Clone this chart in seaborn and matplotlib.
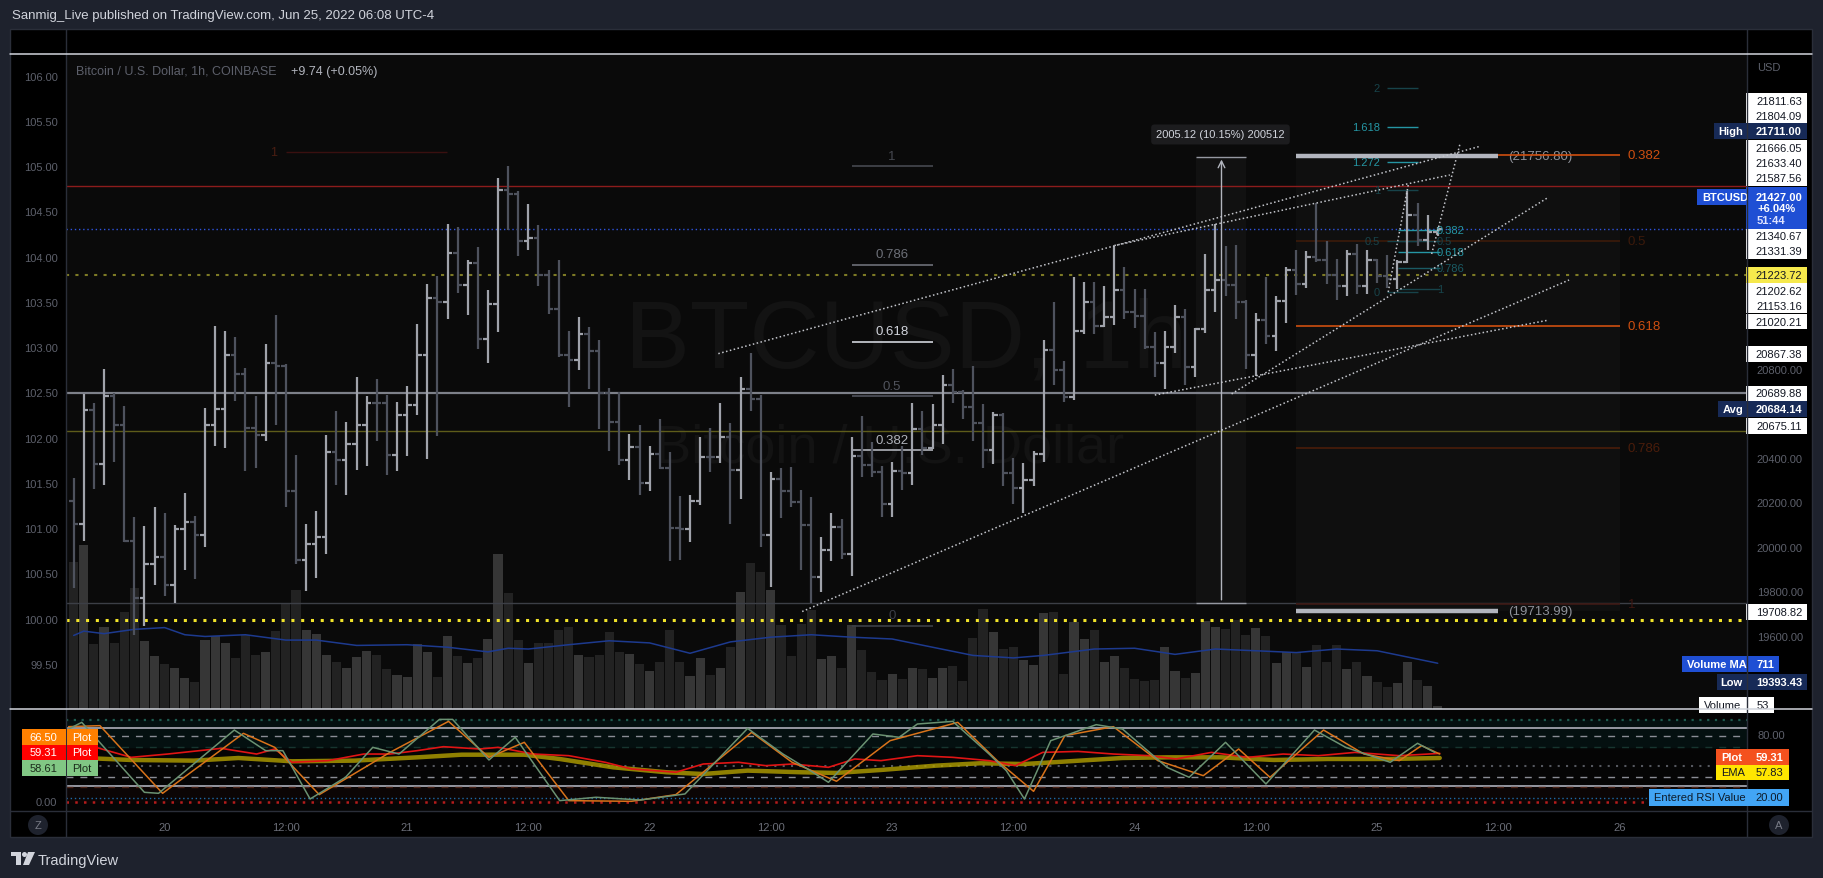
import numpy as np
import pandas as pd
import matplotlib
matplotlib.use("Agg")
import matplotlib.pyplot as plt
import matplotlib.transforms as mtransforms
from matplotlib.patches import Rectangle, Ellipse, Polygon
from matplotlib.lines import Line2D
import seaborn as sns

# ---------------------------------------------------------------- data
# hourly bars, hour 0 = Jun 20 00:00 (UTC-4)
hours = list(range(-9, 127))
opens = [20208, 20104, 20617, 20372, 20677, 20550, 20027, 19771, 19922, 19954,
         19831, 20083, 20112, 20055, 20548, 20622, 20863, 20778, 20534, 20505,
         20826, 20815, 20253, 19940, 20012, 20044, 20425, 20389, 20465, 20548,
         20646, 20646, 20413, 20593, 20636, 20864, 21120, 21099, 21323, 21176,
         21275, 20933, 21091, 21604, 21585, 21375, 21388, 21224, 21070, 20864,
         20839, 20957, 20882, 20693, 20564, 20392, 20449, 20288, 20416, 20355,
         20087, 20079, 20208, 20405, 20405, 20494, 20348, 20709, 20665, 20055,
         20304, 20253, 20203, 20100, 19863, 19986, 20091, 19967, 20409, 20368,
         20336, 20195, 20340, 20333, 20529, 20444, 20548, 20730, 20697, 20630,
         20556, 20436, 20593, 20332, 20264, 20299, 20416, 20887, 20794, 20673,
         20970, 21102, 20994, 21034, 21155, 21054, 21038, 20901, 20829, 20901,
         21034, 20810, 20978, 21155, 21198, 21179, 21102, 20861, 21018, 20949,
         21107, 21246, 21182, 21304, 21288, 21224, 21174, 21315, 21171, 21288,
         21219, 21203, 21283, 21492, 21380, 21415]
highs = [20309, 20686, 20646, 20799, 20693, 20633, 20136, 20096, 20179, 20152,
         20099, 20243, 20139, 20625, 20994, 20973, 20943, 20805, 20678, 20911,
         21043, 20821, 20413, 20104, 20160, 20505, 20609, 20564, 20765, 20678,
         20754, 20681, 20653, 20722, 21002, 21182, 21216, 21452, 21439, 21291,
         21347, 21155, 21657, 21711, 21599, 21540, 21449, 21243, 21288, 20970,
         21034, 20989, 20930, 20713, 20697, 20510, 20548, 20452, 20574, 20429,
         20229, 20235, 20494, 20537, 20646, 20556, 20762, 20874, 20681, 20336,
         20355, 20360, 20256, 20224, 20047, 20152, 20124, 20494, 20588, 20473,
         20365, 20384, 20452, 20646, 20612, 20641, 20774, 20799, 20705, 20813,
         20641, 20606, 20601, 20400, 20376, 20433, 20930, 21102, 20834, 21214,
         21192, 21190, 21171, 21355, 21259, 21158, 21158, 20965, 20970, 21087,
         21070, 20986, 21315, 21452, 21355, 21359, 21110, 21050, 21214, 21126,
         21259, 21335, 21331, 21545, 21376, 21295, 21335, 21364, 21335, 21295,
         21312, 21291, 21599, 21545, 21492, 21436]
lows = [19815, 20028, 20259, 20280, 20380, 20023, 19603, 19646, 19828, 19779,
        19747, 19895, 19855, 19999, 20452, 20444, 20657, 20340, 20357, 20478,
        20550, 20179, 19922, 19803, 19860, 19970, 20280, 20235, 20348, 20364,
        20478, 20325, 20340, 20409, 20593, 20397, 20497, 21026, 21142, 21043,
        20890, 20829, 20967, 21423, 21310, 21335, 21171, 21046, 20853, 20628,
        20794, 20709, 20529, 20433, 20368, 20299, 20232, 20251, 20352, 19935,
        19940, 20023, 20190, 20336, 20376, 20104, 20216, 20609, 19999, 19818,
        20131, 20179, 19898, 19750, 19799, 19935, 19946, 19871, 20315, 20315,
        20136, 20136, 20256, 20280, 20412, 20441, 20465, 20649, 20577, 20476,
        20355, 20372, 20275, 20192, 20155, 20275, 20381, 20726, 20653, 20660,
        20957, 20957, 20990, 20997, 21026, 20986, 20890, 20766, 20709, 20874,
        20726, 20766, 20962, 21058, 21127, 21026, 20802, 20770, 20914, 20882,
        21007, 21131, 21163, 21283, 21182, 21110, 21127, 21139, 21139, 21187,
        21163, 21158, 21278, 21355, 21336, 21396]
closes = [20104, 20617, 20372, 20677, 20550, 20027, 19771, 19922, 19954, 19831,
          20083, 20112, 20055, 20548, 20622, 20863, 20778, 20534, 20505, 20826,
          20815, 20253, 19940, 20012, 20044, 20425, 20389, 20465, 20548, 20646,
          20646, 20413, 20593, 20636, 20864, 21120, 21099, 21323, 21176, 21275,
          20933, 21091, 21604, 21585, 21375, 21388, 21224, 21070, 20864, 20839,
          20957, 20882, 20693, 20564, 20392, 20449, 20288, 20416, 20355, 20087,
          20079, 20208, 20405, 20405, 20494, 20348, 20709, 20665, 20055, 20304,
          20253, 20203, 20100, 19863, 19986, 20091, 19967, 20409, 20368, 20336,
          20195, 20340, 20333, 20529, 20444, 20548, 20730, 20697, 20630, 20556,
          20436, 20593, 20332, 20264, 20299, 20416, 20887, 20794, 20673, 20970,
          21102, 20994, 21034, 21155, 21054, 21038, 20901, 20829, 20901, 21034,
          20810, 20978, 21155, 21198, 21179, 21102, 20861, 21018, 20949, 21107,
          21246, 21182, 21304, 21288, 21224, 21174, 21315, 21171, 21288, 21219,
          21203, 21283, 21492, 21380, 21415, 21427]
volumes = [2281, 2553, 1016, 1282, 1027, 1504, 1876, 1055, 821, 699,
           638, 477, 422, 1071, 1127, 1027, 794, 1143, 838, 888,
           1210, 1643, 1848, 1227, 1171, 838, 727, 638, 810, 899,
           838, 616, 527, 505, 1010, 888, 500, 1138, 821, 710,
           794, 1088, 2414, 1804, 1071, 710, 1027, 1027, 1227, 1282,
           838, 810, 838, 1199, 888, 860, 699, 588, 727, 1227,
           738, 511, 794, 527, 638, 966, 1820, 2264, 2126, 1848,
           1304, 821, 1321, 1543, 777, 821, 638, 1304, 916, 572,
           450, 544, 466, 638, 616, 483, 638, 666, 433, 1099,
           1554, 1199, 932, 971, 766, 683, 1487, 1504, 544, 1349,
           1088, 1227, 727, 821, 638, 466, 433, 450, 960, 588,
           477, 555, 1365, 1277, 1238, 1388, 1154, 1254, 1127, 710,
           888, 888, 655, 999, 727, 999, 616, 738, 511, 416,
           344, 405, 738, 450, 350, 53]
vol_ma_hours = [-9, -8, -6, -3, 0, 2, 4, 8, 12, 15, 19, 24, 28, 32, 34, 36, 40, 44, 48,
                52, 56, 60, 64, 68, 72, 76, 80, 84, 87, 92, 96, 100, 104, 108, 112, 116, 120, 126]
vol_ma_values = [1143, 1210, 1171, 1238, 1265, 1154, 1127, 1154, 1071, 1071, 988, 999, 960, 888,
                 944, 932, 999, 1060, 1027, 866, 1043, 1116, 1154, 1116, 1088, 960, 833, 794,
                 833, 932, 944, 849, 932, 905, 877, 932, 905, 711]

# oscillator pane
green_h = [-9.5, -8.2, -2.0, -0.6, 6.9, 10.0, 11.7, 14.4, 17.9, 20.6, 23.2, 27.2, 28.5, 32.1,
           34.7, 39.1, 42.7, 47.1, 51.5, 57.7, 61.2, 63.9, 65.7, 70.1, 72.7, 74.5, 78.0, 81.6,
           83.3, 85.1, 87.7, 92.2, 94.8, 99.2, 101.4, 105.0, 109.0, 113.8, 116.9, 121.3, 124.0, 125.7]
green_v = [88.8, 96.9, 12.1, 10.9, 87.6, 62.6, 62.6, 4.0, 30.3, 66.6, 58.5, 100.5, 100.5, 51.3,
           78.8, 2.0, 6.1, 2.8, 10.1, 89.6, 58.5, 38.4, 24.2, 82.8, 78.8, 94.9, 98.1, 58.5,
           38.4, 4.0, 74.7, 94.1, 88.8, 42.4, 30.3, 72.7, 22.2, 87.6, 66.6, 48.5, 71.5, 60.5]
orange_h = [-9.5, -6.4, -0.2, 7.8, 10.9, 15.3, 22.3, 28.1, 32.1, 35.6, 40.0, 46.2, 50.6, 58.1,
            62.1, 66.5, 71.8, 78.5, 82.4, 86.0, 89.1, 93.9, 98.3, 102.8, 106.3, 109.4, 114.7,
            118.7, 122.2, 124.4, 126.2]
orange_v = [91.7, 92.9, 10.9, 83.6, 66.6, 9.3, 60.5, 98.1, 54.5, 72.7, 2.0, 1.2, 9.3, 84.8,
            48.5, 25.5, 74.7, 96.9, 50.5, 13.3, 80.8, 91.7, 50.5, 32.3, 64.6, 30.3, 87.6,
            58.5, 50.5, 68.7, 58.5]
red_h = [-9.5, -6.8, -3.3, 0.3, 5.6, 9.1, 10.9, 12.6, 16.2, 19.7, 22.3, 25.0, 27.6, 31.2, 33.0,
         36.5, 40.0, 43.6, 46.2, 50.6, 53.3, 56.8, 59.5, 62.1, 65.7, 68.3, 70.9, 74.5, 78.0,
         81.6, 84.2, 86.9, 90.4, 93.9, 97.5, 100.1, 103.6, 107.2, 110.7, 114.2, 117.8, 122.2, 126.2]
red_v = [64.6, 66.6, 54.5, 58.5, 65.4, 58.5, 64.6, 48.5, 50.5, 58.5, 58.5, 62.6, 67.4, 64.6, 66.6,
         58.5, 56.5, 48.5, 40.4, 36.4, 46.4, 48.5, 44.4, 46.4, 42.4, 52.5, 50.5, 56.5, 54.5,
         50.5, 44.4, 60.5, 61.7, 58.5, 56.5, 52.5, 60.5, 54.5, 58.5, 56.5, 60.5, 56.5, 59.3]
ema_h = [-9.5, -3.3, 2.9, 7.3, 12.6, 18.8, 25.0, 29.4, 35.6, 39.1, 44.4, 49.7, 53.3, 57.7, 63.0,
         66.5, 70.9, 76.3, 80.7, 85.1, 89.5, 94.8, 99.2, 104.5, 109.8, 115.1, 121.3, 126.2]
ema_v = [54.5, 51.3, 50.5, 53.7, 49.7, 50.5, 54.5, 57.7, 57.7, 52.5, 42.4, 36.4, 34.3, 38.4, 36.4,
         35.6, 39.2, 44.4, 47.3, 46.4, 49.7, 53.7, 54.5, 54.5, 51.3, 52.5, 52.5, 53.7]
rsi_levels = [100, 89.6, 80, 67.3, 44.3, 30.6, 20.1, 18.5, 5.6, 0]

# tick labels
time_ticks = [0, 12, 24, 36, 48, 60, 72, 84, 96, 108, 120, 132, 144]
time_labels = ["20", "12:00", "21", "12:00", "22", "12:00", "23", "12:00", "24", "12:00",
               "25", "12:00", "26"]
right_ticks = [19600, 19800, 20000, 20200, 20400, 20800]
left_ticks = [99.5, 100.0, 100.5, 101.0, 101.5, 102.0, 102.5, 103.0, 103.5, 104.0, 104.5,
              105.0, 105.5, 106.0]

# drawings
hline_prices = [21622, 21427, 21223.72, 20689.88, 20521, 19750, 19670]
fib_a_levels = [0, 0.382, 0.5, 0.618, 0.786, 1]
fib_a_prices = (19646, 21711)
fib_b_levels = [0.382, 0.5, 0.618, 0.786, 1]
fib_b_prices = (23011, 19744)
fib_c_levels = [0.382, 0.5, 0.618, 0.786, 1]
fib_c_prices = (21591, 21160)
fib_d_levels = [0, 0.5, 1, 1.272, 1.618, 2]
fib_d_prices = (21146, 21605)
trend_x0 = [54.8, 94.0, 63.1, 105.6, 98.0, 121.1, 125.4]
trend_p0 = [20869, 21355, 19710, 20688, 20683, 21146, 21317]
trend_x1 = [130.2, 127.2, 139.0, 137.0, 137.0, 123.1, 128.2]
trend_p1 = [21801, 21672, 21200, 21573, 21020, 21631, 21811]
range_top, range_bottom = 21756.80, 19713.99
measure_low, measure_high = 19750, 21754

# ---------------------------------------------------------------- style
sns.set_theme(style="dark", rc={"axes.grid": False})
plt.rcParams["font.family"] = ["Liberation Sans", "DejaVu Sans"]

W, H = 1823, 879
fig = plt.figure(figsize=(W / 100, H / 100), dpi=100, facecolor="#1e222d")


def frect(x0, y0, x1, y1):
    return [x0 / W, 1 - y1 / H, (x1 - x0) / W, (y1 - y0) / H]


def fx(x):
    return x / W


def fy(y):
    return 1 - y / H


def fig_box(x0, y0, x1, y1, fc, z=10, ec="none"):
    fig.add_artist(Rectangle((fx(x0), fy(y1)), (x1 - x0) / W, (y1 - y0) / H,
                             transform=fig.transFigure, facecolor=fc, edgecolor=ec, zorder=z))


def fig_text(x, y, s, color, size=8, ha="left", weight="normal", z=11):
    fig.text(fx(x), fy(y), s, color=color, fontsize=size, ha=ha, va="center",
             fontweight=weight, zorder=z)


def fig_line(xs, ys, color, lw=1.0, z=12):
    fig.add_artist(Line2D([fx(v) for v in xs], [fy(v) for v in ys], transform=fig.transFigure,
                          color=color, lw=lw, zorder=z))


# chart frame
fig_box(10, 30, 1812, 838, "#000000", z=-5, ec="#2a2e39")

X_MIN, X_MAX = -9.76, 156.61
P_MIN, P_MAX = 19271.9, 22217.5
L_MIN, L_MAX = 99.002, 106.244
V_MAX = 10185
R_MIN, R_MAX = -10.55, 113.09

main_rect = frect(66, 54.6, 1747, 710)
ax_vol = fig.add_axes(main_rect, zorder=1)
ax_left = fig.add_axes(main_rect, zorder=2)
ax = fig.add_axes(main_rect, zorder=3)
ax_rsi = fig.add_axes(frect(66, 710, 1747, 812), zorder=1)

for a in (ax_vol, ax_left, ax, ax_rsi):
    a.set_xlim(X_MIN, X_MAX)
    for s in a.spines.values():
        s.set_visible(False)
    a.grid(False)
ax_vol.set_facecolor("#0a0a0a")
ax_left.patch.set_alpha(0)
ax.patch.set_alpha(0)
ax_rsi.set_facecolor("#050505")

ax_vol.set_ylim(0, V_MAX)
ax_left.set_ylim(L_MIN, L_MAX)
ax.set_ylim(P_MIN, P_MAX)
ax.set_autoscale_on(False)
ax_rsi.set_ylim(R_MIN, R_MAX)
ax_rsi.set_autoscale_on(False)

ax_vol.set_xticks([]); ax_vol.set_yticks([])
ax_left.set_xticks([])
ax.set_xticks([])

# watermark
ax_vol.text(0.5, 0.522, "BTCUSD, 1h", transform=ax_vol.transAxes, ha="center", va="baseline",
            fontsize=70, color="#131313", zorder=0)
ax_vol.text(0.49, 0.378, "Bitcoin / U.S. Dollar", transform=ax_vol.transAxes, ha="center",
            va="baseline", fontsize=39, color="#131313", zorder=0)

df = pd.DataFrame(dict(hour=hours, open=opens, high=highs, low=lows, close=closes, volume=volumes))
up = (df.close > df.open).values

# volume
vol_col = np.where(up, "#363636", "#222222")
ax_vol.bar(df.hour, df.volume, width=0.9, color=vol_col, zorder=2, linewidth=0)
sns.lineplot(x=vol_ma_hours, y=vol_ma_values, ax=ax_vol, color="#1d3a8f", linewidth=1.1,
             estimator=None, sort=False, zorder=3)
ax_vol.set_xlabel(""); ax_vol.set_ylabel("")
ax_vol.set_xlim(X_MIN, X_MAX); ax_vol.set_ylim(0, V_MAX)

# shaded drawing areas
ax.add_patch(Rectangle((112.0, range_bottom), 32.0, range_top - range_bottom,
                       facecolor="#0f0f0f", edgecolor="none", zorder=0.5))
ax.add_patch(Rectangle((102.05, measure_low), 4.95, measure_high - measure_low,
                       facecolor="#111111", edgecolor="none", zorder=0.6))

# horizontal lines
hl_styles = [("#8c1c1c", "-", 1.0), ("#2f55e0", (0, (1, 2)), 1.0), ("#7d7a25", (0, (1.5, 3)), 1.5),
             ("#7d8089", "-", 1.6), ("#5e5c1a", "-", 1.0), ("#3c3f46", "-", 1.0),
             ("#f2e42a", (0, (1, 2.2)), 2.2)]
for p, (c, ls, lw) in zip(hline_prices, hl_styles):
    ax.axhline(p, color=c, ls=ls, lw=lw, zorder=1)

# old fib level (top left)
ax.hlines(21775, 12.0, 27.9, color="#3a1010", lw=1.0, zorder=1)
ax.text(10.8, 21775, "1", color="#4a1e12", fontsize=9, ha="center", va="center")

# price bars
bar_col = np.where(up, "#a0a3ab", "#4e525d")
ax.vlines(df.hour, df.low, df.high, colors=bar_col, lw=1.6, zorder=5)
ax.hlines(df.open, df.hour - 0.45, df.hour, colors=bar_col, lw=1.6, zorder=5)
ax.hlines(df.close, df.hour, df.hour + 0.45, colors=bar_col, lw=1.6, zorder=5)

# fib retracement (gray)
fa_cols = ["#3c3f48", "#b0b3ba", "#50535c", "#d1d4dc", "#6d7078", "#45484f"]
for lvl, c in zip(fib_a_levels, fa_cols):
    p = fib_a_prices[0] + lvl * (fib_a_prices[1] - fib_a_prices[0])
    ax.hlines(p, 68.0, 76.0, color=c, lw=1.2, zorder=4)
    ax.annotate(f"{lvl:g}", xy=(72.0, p), xytext=(0, 7.5), textcoords="offset points",
                ha="center", va="center", color=c, fontsize=9.5, zorder=4)

# fib retracement (orange)
fb_cols = ["#cf4f10", "#3c1a0a", "#cf4f10", "#4b1d0a", "#3d1712"]
for lvl, c in zip(fib_b_levels, fb_cols):
    p = fib_b_prices[0] + lvl * (fib_b_prices[1] - fib_b_prices[0])
    ax.hlines(p, 112.0, 144.0, color=c, lw=1.2, zorder=4)
    ax.text(144.8, p, f"{lvl:g}", color=c, fontsize=9.5, ha="left", va="center", zorder=4)

# small teal fibs
fc_cols = ["#2596a4", "#17434a", "#2596a4", "#1a5a63", "#17434a"]
for lvl, c in zip(fib_c_levels, fc_cols):
    p = fib_c_prices[0] + lvl * (fib_c_prices[1] - fib_c_prices[0])
    ax.hlines(p, 122.1, 126.2, color=c, lw=1.0, zorder=4)
    ax.text(125.9, p, f"{lvl:g}", color=c, fontsize=8, ha="left", va="center", zorder=6)
fd_cols = ["#17434a", "#17434a", "#17434a", "#2596a4", "#2596a4", "#17434a"]
for lvl, c in zip(fib_d_levels, fd_cols):
    p = fib_d_prices[0] + lvl * (fib_d_prices[1] - fib_d_prices[0])
    ax.hlines(p, 121.0, 124.0, color=c, lw=1.0, zorder=4)
    ax.text(120.3, p, f"{lvl:g}", color=c, fontsize=8, ha="right", va="center", zorder=6)

# range bars
ax.hlines([range_top, range_bottom], 112.0, 132.0, color="#b2b5be", lw=3.2, zorder=6)
ax.text(133.0, range_top, f"({range_top:.2f})", color="#8f929a", fontsize=9.5, va="center")
ax.text(133.0, range_bottom, f"({range_bottom:.2f})", color="#8f929a", fontsize=9.5, va="center")

# measure tool
ax.hlines([measure_low, measure_high], 102.05, 107.0, color="#9598a1", lw=1.0, zorder=6)
ax.annotate("", xy=(104.6, measure_high), xytext=(104.6, measure_low),
            arrowprops=dict(arrowstyle="->", color="#b2b5be", lw=1.0), zorder=6)
ax.text(104.5, 21854, "2005.12 (10.15%) 200512", color="#d1d4dc", fontsize=8, ha="center",
        va="center", zorder=7,
        bbox=dict(boxstyle="round,pad=0.45,rounding_size=0.3", fc="#1c1c1e", ec="none"))

# trend lines
for x0, p0, x1, p1 in zip(trend_x0, trend_p0, trend_x1, trend_p1):
    ax.plot([x0, x1], [p0, p1], color="#c4c6cc", lw=1.1, ls=(0, (1, 1.6)), zorder=6)

# axis tick labels
ax.yaxis.tick_right()
ax.set_yticks(right_ticks)
ax.set_yticklabels([f"{v:.2f}" for v in right_ticks])
ax.tick_params(axis="y", length=0, pad=7, labelsize=8, labelcolor="#5d606b")
ax_left.set_yticks(left_ticks)
ax_left.set_yticklabels([f"{v:.2f}" for v in left_ticks])
ax_left.tick_params(axis="y", length=0, pad=6, labelsize=8, labelcolor="#5d606b")

# right-hand price labels
ppx = (P_MAX - P_MIN) / (710 - 54.6)
trans_r = mtransforms.blended_transform_factory(fig.transFigure, ax.transData)


def price_box(anchor, x0, x1, fc, hpx=15.6):
    ax.add_patch(Rectangle((x0 / W, anchor - hpx * ppx / 2), (x1 - x0) / W, hpx * ppx,
                           transform=trans_r, facecolor=fc, edgecolor="none",
                           clip_on=False, zorder=30))


def price_text(anchor, x, s, color, ha="right", weight="normal"):
    ax.text(x / W, anchor, s, transform=trans_r, ha=ha, va="center", color=color, fontsize=8,
            fontweight=weight, clip_on=False, zorder=31)


white_labels = ["21811.63", "21804.09", "21666.05", "21633.40", "21587.56", "21340.67",
                "21331.39", "21202.62", "21153.16", "21020.21", "20867.38", "20689.88",
                "20675.11", "19708.82"]
white_anchor = [22005.8, 21935.7, 21793.3, 21725.8, 21657.1, 21396.4, 21329.0, 21151.9,
                21084.5, 21012.6, 20867.4, 20689.9, 20543.8, 19707.9]
for s, a in zip(white_labels, white_anchor):
    price_box(a, 1746, 1807, "#ffffff")
    price_text(a, 1802, s, "#131722")
price_box(21222.5, 1746, 1807, "#f6e94c")
price_text(21222.5, 1802, "21223.72", "#131722")

named = [("High", "21711.00", 21868.3, 1714, 1718), ("Avg", "20684.14", 20620.2, 1718, 1723),
         ("Low", "19393.43", 19393.3, 1717, 1720)]
for name, val, a, x0, xt in named:
    price_box(a, x0, 1807, "#172a57")
    price_text(a, xt, name, "#ffffff", ha="left", weight="bold")
    price_text(a, 1802, val, "#ffffff", weight="bold")
price_box(19474.0, 1682, 1779, "#1f4fd4")
price_text(19474.0, 1687, "Volume MA", "#ffffff", ha="left", weight="bold")
price_text(19474.0, 1774, "711", "#ffffff", weight="bold")
price_box(19289.9, 1699, 1774, "#ffffff")
price_text(19289.9, 1704, "Volume", "#131722", ha="left")
price_text(19289.9, 1769, "53", "#131722")
# BTCUSD box
price_box(21573.0, 1697, 1746, "#1f4fd4")
price_box(21524.3, 1746, 1807, "#1f4fd4", hpx=42.3)
price_text(21573.0, 1702, "BTCUSD", "#ffffff", ha="left", weight="bold")
price_text(21573.0, 1802, "21427.00", "#ffffff", weight="bold")
price_text(21523.6, 1757, "+6.04%", "#ffffff", ha="left", weight="bold")
price_text(21467.4, 1757, "51:44", "#dfe3ff", ha="left", weight="bold")

# ---------------------------------------------------------------- oscillator pane
ax_rsi.axhspan(67.3, 100, color="#041010", zorder=0)
ax_rsi.axhspan(0, 20.1, color="#0b0505", zorder=0)
lvl_styles = [("#1e5a4e", (0, (1, 2.5)), 1.6), ("#9598a1", "-", 1.4), ("#8a8d95", (0, (5, 5)), 1.0),
              ("#17352f", (0, (5, 5)), 1.0), ("#55585f", (0, (1, 3)), 1.5),
              ("#8a8d95", (0, (5, 5)), 1.0), ("#9598a1", "-", 1.4), ("#4a2216", (0, (5, 5)), 1.0),
              ("#1e6aa8", (0, (1, 2)), 1.0), ("#b51c1c", (0, (1, 2.5)), 1.8)]
for v, (c, ls, lw) in zip(rsi_levels, lvl_styles):
    ax_rsi.axhline(v, color=c, ls=ls, lw=lw, zorder=1)

sns.lineplot(x=ema_h, y=ema_v, ax=ax_rsi, color="#b3a000", linewidth=3.2, alpha=0.8,
             estimator=None, sort=False, zorder=2)
sns.lineplot(x=red_h, y=red_v, ax=ax_rsi, color="#e01414", linewidth=1.2,
             estimator=None, sort=False, zorder=3)
sns.lineplot(x=orange_h, y=orange_v, ax=ax_rsi, color="#d9731a", linewidth=1.1,
             estimator=None, sort=False, zorder=4)
sns.lineplot(x=green_h, y=green_v, ax=ax_rsi, color="#6b9272", linewidth=1.1,
             estimator=None, sort=False, zorder=5)
ax_rsi.set_xlabel(""); ax_rsi.set_ylabel("")
ax_rsi.set_xlim(X_MIN, X_MAX); ax_rsi.set_ylim(R_MIN, R_MAX)
ax_rsi.set_yticks([])
ax_rsi.set_xticks(time_ticks)
ax_rsi.set_xticklabels(time_labels)
ax_rsi.tick_params(axis="x", length=0, pad=8, labelsize=8, labelcolor="#6b6e78")

# ---------------------------------------------------------------- chrome
fig_line([10, 1812], [54.6, 54.6], "#d1d4dc", lw=1.1)
fig_line([10, 1812], [710, 710], "#d1d4dc", lw=1.1)
fig_line([10, 1812], [812, 812], "#2a2e39", lw=1.0)
fig_line([66, 66], [30, 838], "#2a2e39", lw=1.0, z=9)
fig_line([1747, 1747], [30, 838], "#2a2e39", lw=1.0, z=9)

fig_text(12, 16, "Sanmig_Live published on TradingView.com, Jun 25, 2022 06:08 UTC-4",
         "#d1d4dc", size=9.5)
fig_text(76, 72, "Bitcoin / U.S. Dollar, 1h, COINBASE", "#5d606b", size=9)
fig_text(291, 72, "+9.74 (+0.05%)", "#b2b5be", size=9)
fig_text(1757, 68, "USD", "#5d606b", size=8)

# oscillator labels left
for y0, val, fc, tc in [(730, "66.50", "#ff8000", "#ffffff"), (745.7, "59.31", "#ff0000", "#ffffff"),
                        (761.4, "58.61", "#81c784", "#1b2b1b")]:
    fig_box(22, y0, 65.5, y0 + 15.6, fc)
    fig_box(66.5, y0, 98, y0 + 15.6, fc)
    fig_text(43.5, y0 + 7.8, val, tc, ha="center")
    fig_text(82, y0 + 7.8, "Plot", tc, ha="center")
fig_text(57, 803, "0.00", "#5d606b", ha="right")
fig_text(1757, 736, "80.00", "#5d606b")
# oscillator labels right
fig_box(1716, 750, 1789, 765.7, "#f4511e")
fig_text(1721, 757.9, "Plot", "#ffffff", weight="bold")
fig_text(1783, 757.9, "59.31", "#ffffff", ha="right", weight="bold")
fig_box(1716, 765.7, 1789, 781.4, "#ffe600")
fig_text(1721, 773.5, "EMA", "#131722")
fig_text(1783, 773.5, "57.83", "#131722", ha="right")
fig_box(1649, 790, 1789, 806.7, "#42a5f5")
fig_text(1654, 798.3, "Entered RSI Value", "#0d1b2a")
fig_text(1783, 798.3, "20.00", "#0d1b2a", ha="right")

# scale buttons
for cx, letter in [(38, "Z"), (1779, "A")]:
    fig.add_artist(Ellipse((fx(cx), fy(826)), 20 / W, 20 / H, transform=fig.transFigure,
                           facecolor="#1e222d", edgecolor="none", zorder=10))
    fig_text(cx, 826, letter, "#787b86", size=8, ha="center")

# TradingView logo
fig_box(11, 853, 21, 857, "#d1d4dc", z=10)
fig_box(16, 853, 21, 866, "#d1d4dc", z=10)
fig.add_artist(Ellipse((fx(24.5), fy(855.5)), 5 / W, 5 / H, transform=fig.transFigure,
                       facecolor="#d1d4dc", edgecolor="none", zorder=10))
fig.add_artist(Polygon([(fx(28), fy(853)), (fx(35), fy(853)), (fx(29), fy(866)), (fx(23), fy(866))],
                       closed=True, transform=fig.transFigure, facecolor="#d1d4dc",
                       edgecolor="none", zorder=10))
fig_text(38, 861, "TradingView", "#d1d4dc", size=10.5)

fig.savefig("out.png", dpi=100, facecolor=fig.get_facecolor())
